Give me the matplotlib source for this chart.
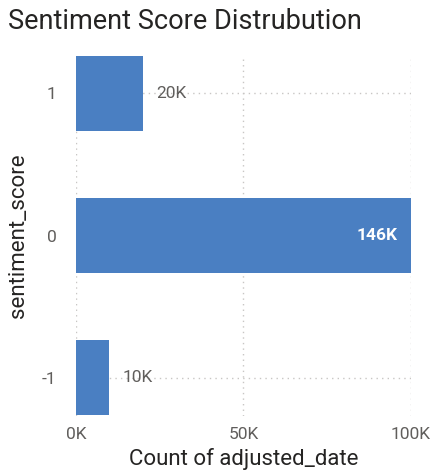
import matplotlib
matplotlib.use("Agg")
import matplotlib.pyplot as plt

# data
categories = ["-1", "0", "1"]
counts = [10000, 146000, 20000]
labels = ["10K", "146K", "20K"]
xticks = [0, 50000, 100000]
xtick_labels = ["0K", "50K", "100K"]

plt.rcParams["font.family"] = ["Roboto", "DejaVu Sans"]

fig = plt.figure(figsize=(4.34, 4.75), dpi=100)
ax = fig.add_axes([0.175, 0.124, 0.772, 0.760])

pos = list(range(len(categories)))
ax.barh(pos, counts, height=0.53, color="#4A7FC2", zorder=2)
ax.set_xlim(0, 100000)
ax.set_ylim(-0.27, 2.27)

for p, c, lab in zip(pos, counts, labels):
    if c > 100000:
        ax.text(100000 - 4000, p, lab, ha="right", va="center", color="white",
                fontsize=12.5, fontweight="bold", zorder=3)
    else:
        ax.text(c + 4000, p, lab, ha="left", va="center", color="#605E5C",
                fontsize=12.5, zorder=3)

ax.set_yticks(pos)
ax.set_yticklabels(categories)
ax.set_xticks(xticks)
ax.set_xticklabels(xtick_labels)
ax.tick_params(length=0, colors="#605E5C", labelsize=12.5)
ax.tick_params(axis="y", pad=14)
ax.tick_params(axis="x", pad=8)

ax.grid(True, linestyle=(0, (1, 3)), color="#C8C6C4", linewidth=1, zorder=0)
for s in ax.spines.values():
    s.set_visible(False)

ax.set_xlabel("Count of adjusted_date", fontsize=16, color="#252423", labelpad=4)
ax.set_ylabel("sentiment_score", fontsize=16, color="#252423", labelpad=9)

fig.text(0.018, 0.955, "Sentiment Score Distrubution", fontsize=19.5, color="#252423",
         ha="left", va="center")

fig.savefig("out.png", dpi=100)
